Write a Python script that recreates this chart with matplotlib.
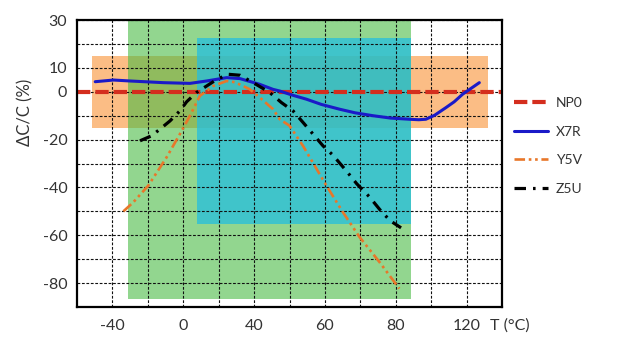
import matplotlib
matplotlib.use("Agg")
import matplotlib.pyplot as plt
from matplotlib.patches import Rectangle

# x is in grid units (one gridline every 20); the printed tick labels are
# taken as they appear on the original chart
X_TICKS = [-40, 0, 40, 80, 120, 160]
X_LABELS = ["-40", "0", "40", "60", "80", "120"]
Y_TICKS = [30, 10, 0, -20, -40, -60, -80]
Y_LABELS = ["30", "10", "0", "-20", "-40", "-60", "-80"]

# tolerance boxes: (x0, x1, y0, y1)
BOX_X7R = (-51.6, 171.9, -15, 15)
BOX_Y5V = (-31, 128.7, -86.5, 31)
BOX_Z5U = (7.5, 128.7, -55.2, 22.6)

NP0_X = [-60, 180]
NP0_Y = [0, 0]

X7R_X = [-49.7, -39.4, -30, -11.2, 3.8, 13.2, 24.5, 32, 43.2, 50.7, 54.5, 62,
         69.5, 78, 88.3, 97, 107, 117, 127.7, 133, 137, 142, 148.4, 153,
         157.8, 162.5, 167.2]
X7R_Y = [4.2, 4.9, 4.5, 3.8, 3.5, 4.5, 5.9, 5.5, 3.1, 1.0, 0.3, -1.5,
         -3.1, -5.3, -7.3, -8.8, -10, -11, -11.5, -11.7, -11.5, -9.8, -6.6,
         -4.2, -1.0, 1.4, 3.8]

Y5V_X = [-33.8, -28.2, -19.7, -9.4, -1.9, 3.8, 9.4, 16.9, 24.5, 29, 33.8, 37.6,
         43.2, 50.7, 54.5, 60, 67.6, 80.8, 90.1, 99.5, 110.8, 122]
Y5V_Y = [-50, -46.2, -39.2, -27.4, -17.7, -10, -1.7, 2.4, 4.5, 4.0, 2.4, 1.0,
         -2.4, -7.3, -11.5, -14.2, -22.6, -39.2, -50.3, -60.7, -71.2, -82.3]

Z5U_X = [-24.4, -17.8, -12.6, -7.5, -1.9, 1.9, 7.5, 13.2, 19, 25.4, 32, 40,
         48.8, 55.4, 62, 70.4, 78.9, 84.5, 92, 98, 105.2, 111.8, 117, 123]
Z5U_Y = [-20.5, -18.4, -15.3, -12.2, -8, -4.2, -0.3, 2.4, 5.2, 7.3, 6.9, 3.6,
         -0.3, -4.5, -8, -15.2, -22.6, -26.5, -33, -38.5, -44, -50, -54, -56.9]

INK = "#333333"
FONT = "Lato"
plt.rcParams.update({"font.family": [FONT, "DejaVu Sans"], "text.color": INK})


def box(ax, b, color, alpha, z):
    x0, x1, y0, y1 = b
    ax.add_patch(Rectangle((x0, y0), x1 - x0, y1 - y0, facecolor=color,
                           edgecolor="none", alpha=alpha, zorder=z))


fig = plt.figure(figsize=(6.31, 3.59), dpi=100)
ax = fig.add_axes([77 / 631, 1 - 307 / 359, 425 / 631, 287 / 359])

box(ax, BOX_X7R, "#fbbd85", 1.0, 1)
box(ax, BOX_Y5V, "#49bb44", 0.6, 1.1)
box(ax, BOX_Z5U, "#25bedf", 0.75, 1.2)

ax.plot(NP0_X, NP0_Y, color="#d42e1e", lw=3.0, dashes=(3.2, 1.2),
        zorder=4, label="NP0")
ax.plot(X7R_X, X7R_Y, color="#1a1ac8", lw=2.2, solid_capstyle="round",
        solid_joinstyle="round", zorder=5, label="X7R")
ax.plot(Y5V_X, Y5V_Y, color="#e8772a", lw=1.9,
        dashes=(4, 1.4, 1, 1.4, 1, 1.4), zorder=5, label="Y5V")
ax.plot(Z5U_X, Z5U_Y, color="black", lw=2.3,
        dashes=(3.6, 2.2, 0.8, 2.2), zorder=5, label="Z5U")

ax.set_xlim(-60, 180)
ax.set_ylim(-90, 30)
ax.set_xticks(range(-40, 180, 20), minor=True)
ax.set_yticks(range(-80, 30, 10), minor=True)
ax.set_xticks(X_TICKS)
ax.set_xticklabels(X_LABELS)
ax.set_yticks(Y_TICKS)
ax.set_yticklabels(Y_LABELS)
ax.tick_params(which="both", length=0, labelsize=11.5, labelcolor=INK)
ax.tick_params(axis="x", pad=9)
ax.tick_params(axis="y", pad=7)
ax.grid(True, which="both", color="#111111", lw=0.8, ls=(0, (2.5, 1.5)))
ax.set_axisbelow(False)
for s in ax.spines.values():
    s.set_linewidth(1.6)
    s.set_zorder(6)

fig.text(25 / 631, 1 - 112 / 359, "\u0394C/C (%)", rotation=90,
         ha="center", va="center", fontsize=12, color=INK)
fig.text(490 / 631, 1 - 326 / 359, "T (\u00b0C)", ha="left", va="center",
         fontsize=11.5, color=INK)

h, l = ax.get_legend_handles_labels()
fig.legend(h, l, loc="upper left", bbox_to_anchor=(514 / 631, 1 - 97 / 359),
           frameon=False, fontsize=10, handlelength=2.45, handletextpad=0.55,
           labelspacing=1.2, borderpad=0, borderaxespad=0)

fig.savefig("out.png", dpi=100)
